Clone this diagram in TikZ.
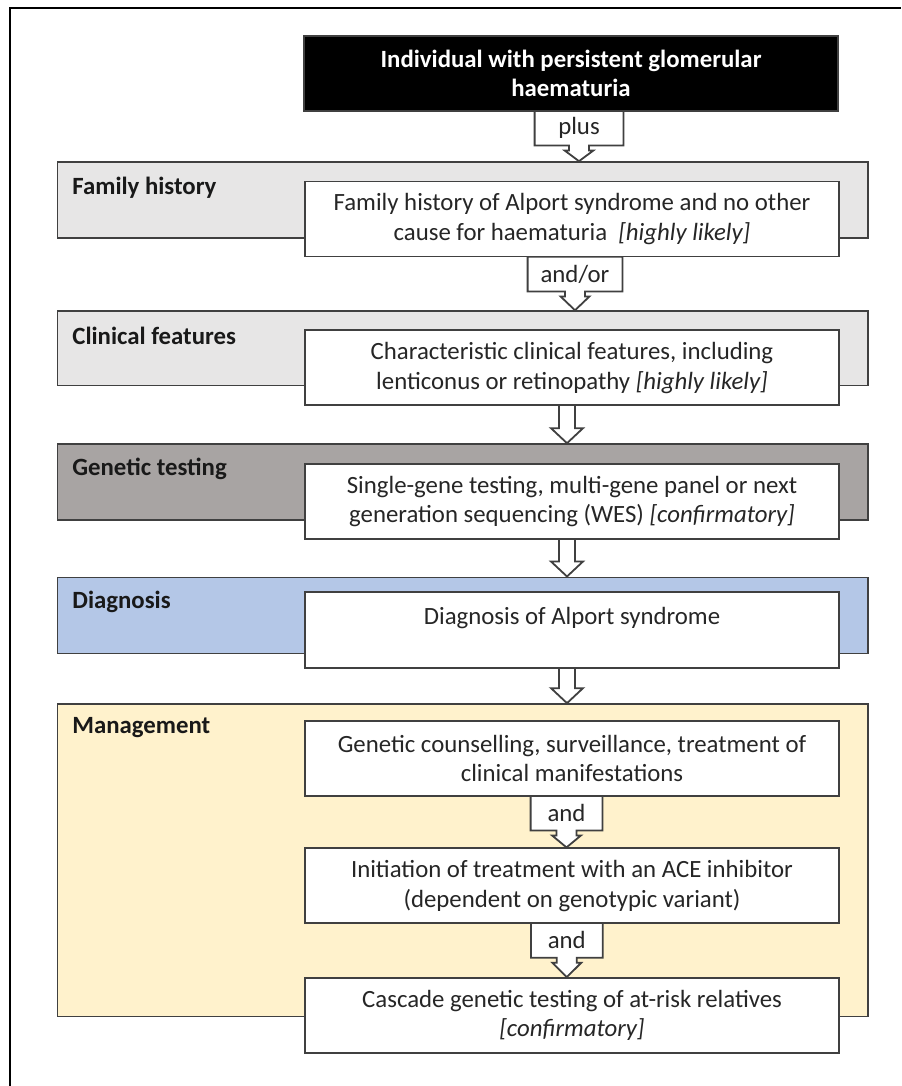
\documentclass[tikz,border=0pt]{standalone}
\usepackage{fontspec}
\setmainfont{Carlito}
\usetikzlibrary{calc}
\pgfdeclarelayer{bg}
\pgfsetlayers{bg,main}
\definecolor{edge}{HTML}{404040}
\definecolor{fhgray}{HTML}{E7E6E6}
\definecolor{gtgray}{HTML}{A8A4A3}
\definecolor{dxblue}{HTML}{B4C7E7}
\definecolor{mgyellow}{HTML}{FFF2CC}
\definecolor{txt}{HTML}{262626}
\newcommand{\drawcallout}[2]{%
  \filldraw[callout] (#1.north west) -- (#1.north east) -- (#1.south east)
   -- ($(#1.south)+(10,0)$) -- ($(#1.south)+(10,5)$) -- ($(#1.south)+(14.5,5)$)
   -- (#2.north -| #1.south)
   -- ($(#1.south)+(-14.5,5)$) -- ($(#1.south)+(-10,5)$) -- ($(#1.south)+(-10,0)$)
   -- (#1.south west) -- cycle;}
\newcommand{\drawblock}[2]{%
  \filldraw[blockarrow] ($(#1)+(-8,0)$) -- ($(#2)+(-8,-15)$) -- ($(#2)+(-16,-15)$)
   -- (#2) -- ($(#2)+(16,-15)$) -- ($(#2)+(8,-15)$) -- ($(#1)+(8,0)$);}
\begin{document}
\begin{tikzpicture}[x=0.5pt,y=-0.5pt,
  every node/.style={font=\fontsize{12.4}{14.75}\selectfont, text=txt, inner sep=0pt},
  band/.style={draw=edge, line width=0.8pt, minimum width=405.25pt, minimum height=38pt},
  wbox/.style={draw=edge, line width=0.9pt, fill=white, minimum width=267pt, minimum height=37.5pt, align=center},
  bandlabel/.style={anchor=west, font=\fontsize{12.4}{14.75}\selectfont\bfseries, text=black!90},
  clabel/.style={minimum height=17pt},
  callout/.style={draw=edge, line width=0.9pt, fill=white, line join=miter},
  blockarrow/.style={draw=edge, line width=0.9pt, fill=white},
]
\useasboundingbox (0,0) rectangle (901,1086);
\begin{pgfonlayer}{bg}
  \fill[white] (0,0) rectangle (901,1086);
  \node[band, fill=fhgray] (fhband) at (462.75,200) {};
  \node[band, fill=fhgray, minimum height=37.15pt] (cfband) at (462.75,348.2) {};
  \node[band, fill=gtgray] (gtband) at (462.75,482) {};
  \node[band, fill=dxblue] (dxband) at (462.75,615.3) {};
  \node[band, fill=mgyellow, minimum height=156.35pt] (mgband) at (462.75,860.3) {};
\end{pgfonlayer}

% outer frame (top and left rules)
\draw[line width=1pt, black] (9,8) -- (901,8);
\draw[line width=1.2pt, black] (10,8) -- (10,1086);

% band labels
\node[bandlabel] (fhlabel) at (72,188) {Family history};
\node[bandlabel] (cflabel) at (72,336) {Clinical features};
\node[bandlabel] (gtlabel) at (72,469) {Genetic testing};
\node[bandlabel] (dxlabel) at (72,602) {Diagnosis};
\node[bandlabel] (mglabel) at (72,728) {Management};

% boxes
\node[wbox, fill=black, text=white, font=\fontsize{12.4}{14.75}\selectfont\bfseries] (start) at (571,73.5)
  {Individual with persistent glomerular\\haematuria};
\node[wbox] (fh) at (572,219) {Family history of Alport syndrome and no other\\cause for haematuria~ \textit{[highly likely]}};
\node[wbox] (cf) at (572,367.8) {Characteristic clinical features, including\\lenticonus or retinopathy \textit{[highly likely]}};
\node[wbox] (gt) at (572,501.3) {Single-gene testing, multi-gene panel or next\\generation sequencing (WES) \textit{[confirmatory]}};
\node[wbox, minimum height=38pt] (dx) at (572,630.3) {Diagnosis of Alport syndrome\\[-5pt]\strut};
\node[wbox] (m1) at (572,758.7) {Genetic counselling, surveillance, treatment of\\clinical manifestations};
\node[wbox] (m2) at (572,885.8) {Initiation of treatment with an ACE inhibitor\\(dependent on genotypic variant)};
\node[wbox] (m3) at (572,1015.5) {Cascade genetic testing of at-risk relatives\\\textit{[confirmatory]}};

% callout labels
\node[clabel, minimum width=44pt] (plus) at (579,128) {plus};
\node[clabel, minimum width=47pt] (andor) at (575,274) {and/or};
\node[clabel, minimum width=35.5pt] (and1) at (566.5,813) {and};
\node[clabel, minimum width=35.5pt] (and2) at (566.8,940.3) {and};

% block arrow end points
\coordinate (ax) at (567,0);
\coordinate (s1) at (cf.south -| ax);
\coordinate (t1) at (gtband.north -| ax);
\coordinate (s2) at (gt.south -| ax);
\coordinate (t2) at (dxband.north -| ax);
\coordinate (s3) at (dx.south -| ax);
\coordinate (t3) at (mgband.north -| ax);

\begin{pgfonlayer}{bg}
  \drawcallout{plus}{fhband}
  \drawcallout{andor}{cfband}
  \drawcallout{and1}{m2}
  \drawcallout{and2}{m3}
  \drawblock{s1}{t1}
  \drawblock{s2}{t2}
  \drawblock{s3}{t3}
\end{pgfonlayer}
\end{tikzpicture}
\end{document}
